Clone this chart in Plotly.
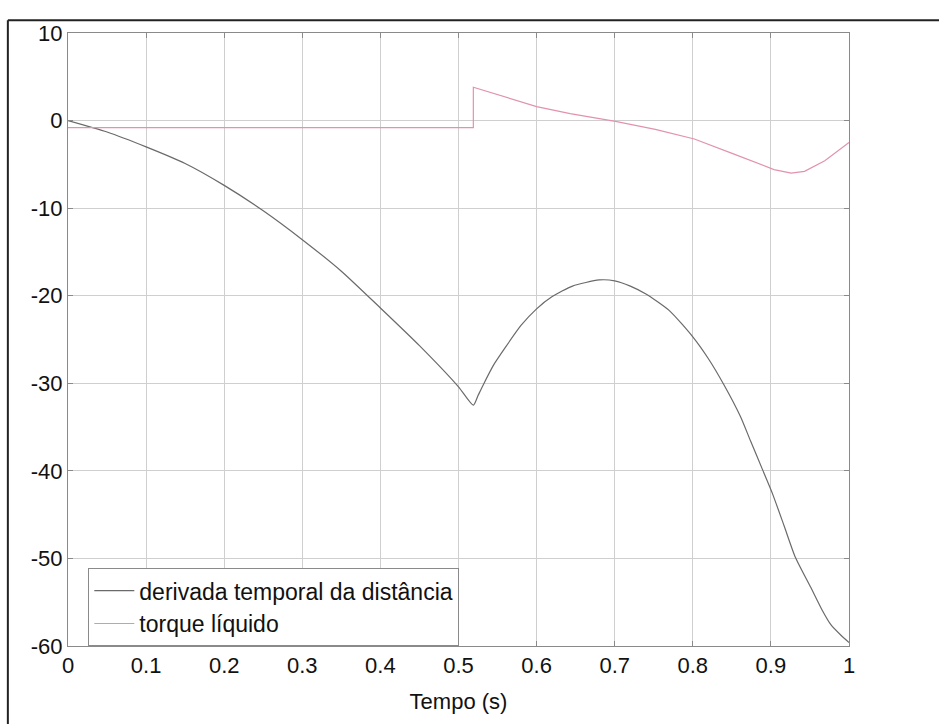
import plotly.graph_objects as go

# Data
t_deriv = [0.0, 0.05, 0.10, 0.15, 0.20, 0.25, 0.30, 0.35, 0.40, 0.45, 0.50, 0.519,
           0.525, 0.531, 0.545, 0.56, 0.58, 0.60, 0.62, 0.646, 0.68, 0.70, 0.72, 0.74,
           0.77, 0.80, 0.82, 0.84, 0.861, 0.874, 0.889, 0.902, 0.917, 0.931, 0.951,
           0.965, 0.977, 0.99, 1.0]
y_deriv = [0.0, -1.3, -3.0, -4.9, -7.4, -10.3, -13.6, -17.2, -21.4, -25.7, -30.4, -32.5,
           -31.4, -30.3, -27.9, -25.9, -23.4, -21.5, -20.1, -18.9, -18.2, -18.3, -18.9, -19.8,
           -21.7, -24.7, -27.2, -30.2, -33.8, -36.6, -39.8, -42.6, -46.3, -49.8, -53.3,
           -55.8, -57.6, -58.8, -59.6]

t_torque = [0.0, 0.519, 0.519, 0.561, 0.60, 0.643, 0.701, 0.752, 0.802, 0.852,
            0.904, 0.926, 0.943, 0.969, 1.0]
y_torque = [-0.8, -0.8, 3.8, 2.7, 1.6, 0.8, -0.1, -1.0, -2.1, -3.8,
            -5.6, -6.0, -5.8, -4.6, -2.5]

x_ticks = [0, 0.1, 0.2, 0.3, 0.4, 0.5, 0.6, 0.7, 0.8, 0.9, 1]
x_tick_labels = ["0", "0.1", "0.2", "0.3", "0.4", "0.5", "0.6", "0.7", "0.8", "0.9", "1"]
y_ticks = [10, 0, -10, -20, -30, -40, -50, -60]
y_tick_labels = ["10", "0", "-10", "-20", "-30", "-40", "-50", "-60"]

FONT = "Liberation Sans, Arial, sans-serif"

fig = go.Figure()
fig.add_trace(go.Scatter(x=t_deriv, y=y_deriv, mode="lines", line_shape="spline",
                         name="derivada temporal da distância",
                         line=dict(color="#6a6a6a", width=1.2, smoothing=0.6)))
fig.add_trace(go.Scatter(x=t_torque, y=y_torque, mode="lines",
                         name="torque líquido",
                         line=dict(color="#e293ab", width=1.2)))

axis_common = dict(showgrid=True, gridcolor="#cfcfcf", gridwidth=1,
                   showline=True, linecolor="#8a8a8a", linewidth=1, mirror="ticks",
                   ticks="inside", ticklen=5, tickcolor="#8a8a8a",
                   zeroline=False, tickfont=dict(family=FONT, size=22, color="#111"))

fig.update_xaxes(range=[0, 1], tickvals=x_ticks, ticktext=x_tick_labels,
                 title=dict(text="Tempo (s)", font=dict(family=FONT, size=22, color="#111"),
                            standoff=16),
                 **axis_common)
fig.update_yaxes(range=[-60, 10], tickvals=y_ticks, ticktext=y_tick_labels, **axis_common)

# outer scanned frame
fig.add_shape(type="line", xref="paper", yref="paper", x0=-0.077, x1=1.2, y0=1.021, y1=1.021,
              line=dict(color="#222", width=2))
fig.add_shape(type="line", xref="paper", yref="paper", x0=-0.077, x1=-0.077, y0=1.021, y1=-0.3,
              line=dict(color="#222", width=2))

fig.update_layout(
    width=939, height=724,
    margin=dict(l=68, r=90, t=33, b=78),
    paper_bgcolor="white", plot_bgcolor="white",
    showlegend=True,
    legend=dict(x=0.026, y=0.127, xanchor="left", yanchor="top",
                bgcolor="white", bordercolor="#8a8a8a", borderwidth=1,
                font=dict(family=FONT, size=23, color="#111"),
                tracegroupgap=0, itemwidth=40),
    font=dict(family=FONT),
)

fig.write_html("out.html")
